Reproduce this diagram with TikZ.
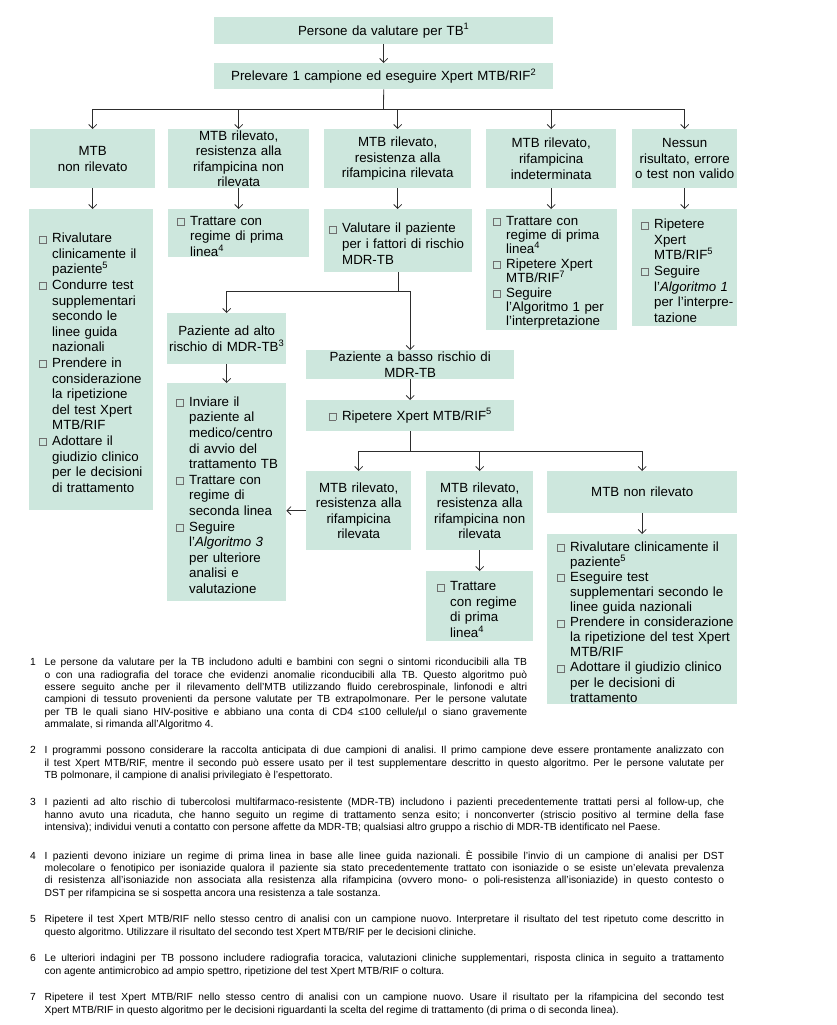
\documentclass[tikz,border=0pt]{standalone}
\usepackage{fontspec}
\setmainfont{Liberation Sans}
\usepackage{xcolor}
\usetikzlibrary{positioning, arrows.meta}

\definecolor{boxgreen}{RGB}{205,231,221}
\definecolor{linegray}{RGB}{45,45,45}
\definecolor{chkgray}{RGB}{110,110,110}

\newcommand{\chkbox}{{\color{chkgray}\setlength{\fboxsep}{0pt}\setlength{\fboxrule}{0.5pt}\fbox{\rule{0pt}{6.5pt}\rule{6.5pt}{0pt}}}}
\newcommand{\itm}{\par\hangindent=13pt\hangafter=1\noindent\hbox to 13pt{\chkbox\hss}}
\newcommand{\pad}[1]{\leftskip=#1\relax}
\newcommand{\fnum}[1]{\hangindent=14.5pt\hangafter=1\noindent\strut\hbox to 14.5pt{#1\hss}}

\begin{document}
\begin{tikzpicture}[x=1pt, y=-1pt,
    box/.style={fill=boxgreen, anchor=north west, inner sep=0pt, font=\fontsize{13.3}{15.6}\selectfont},
    cbox/.style={box, align=center},
    lbox/.style={box, align=left},
    link/.style={draw=linegray, line width=0.8pt},
    flow/.style={link, -{Straight Barb[length=4pt, width=8pt]}},
    fnote/.style={anchor=north west, inner sep=0pt, align=justify, font=\fontsize{10.3}{12.3}\selectfont\frenchspacing}]
  \useasboundingbox (0,0) rectangle (836,1025);

  % start
  \node[cbox, text width=339pt, minimum height=27pt] (top) at (214,17) {Persone da valutare per TB\textsuperscript{1}};
  \node[cbox, text width=339pt, minimum height=26pt] (sample) at (214,63) {Prelevare 1 campione ed eseguire Xpert MTB/RIF\textsuperscript{2}};

  % first results
  \node[cbox, text width=125pt, minimum height=59pt] (notdet) at (30,129) {MTB\\non rilevato};
  \node[cbox, text width=141pt, minimum height=59pt] (rifneg) at (168,129) {MTB rilevato,\\resistenza alla\\rifampicina non\\rilevata};
  \node[cbox, text width=147pt, minimum height=59pt] (rifpos) at (324,129) {MTB rilevato,\\resistenza alla\\rifampicina rilevata};
  \node[cbox, text width=130pt, minimum height=59pt] (rifind) at (486,129) {MTB rilevato,\\rifampicina\\indeterminata};
  \node[cbox, text width=105pt, minimum height=59pt] (noresult) at (632,129) {Nessun\\risultato, errore\\o test non valido};

  % actions
  \node[lbox, text width=124pt, minimum height=301pt] (actnotdet) at (29,209) {\pad{10pt}%
    \itm Rivalutare\newline clinicamente il\newline paziente\textsuperscript{5}
    \itm Condurre test\newline supplementari\newline secondo le\newline linee guida\newline nazionali
    \itm Prendere in\newline considerazione\newline la ripetizione\newline del test Xpert\newline MTB/RIF
    \itm Adottare il\newline giudizio clinico\newline per le decisioni\newline di trattamento\par};
  \node[lbox, text width=141pt, minimum height=48pt] (actrifneg) at (168,209) {\pad{9pt}%
    \itm Trattare con\newline regime di prima\newline linea\textsuperscript{4}\par};
  \node[lbox, text width=148pt, minimum height=63pt] (actrifpos) at (324,209) {\pad{5pt}%
    \itm Valutare il paziente\newline per i fattori di rischio\newline MDR-TB\par};
  \node[lbox, text width=131pt, minimum height=121pt, font=\fontsize{13.3}{14.4}\selectfont] (actrifind) at (486,209) {\pad{7pt}%
    \itm Trattare con\newline regime di prima\newline linea\textsuperscript{4}
    \itm Ripetere Xpert\newline MTB/RIF\textsuperscript{7}
    \itm Seguire\newline l'Algoritmo 1 per\newline l'interpretazione\par};
  \node[lbox, text width=105pt, minimum height=117pt] (actnores) at (632,209) {\pad{9pt}%
    \itm Ripetere\newline Xpert\newline MTB/RIF\textsuperscript{5}
    \itm Seguire\newline l'\textit{Algoritmo 1}\newline per l'interpre-\newline tazione\par};

  % risk
  \node[cbox, text width=119pt, minimum height=51pt] (highrisk) at (167,313) {Paziente ad alto\\rischio di MDR-TB\textsuperscript{3}};
  \node[cbox, text width=208pt, minimum height=29pt] (lowrisk) at (306,350) {Paziente a basso rischio di\\MDR-TB};
  \node[lbox, text width=119pt, minimum height=218pt] (acthigh) at (167,383) {\pad{9pt}%
    \itm Inviare il\newline paziente al\newline medico/centro\newline di avvio del\newline trattamento TB
    \itm Trattare con\newline regime di\newline seconda linea
    \itm Seguire\newline l'\textit{Algoritmo 3}\newline per ulteriore\newline analisi e\newline valutazione\par};
  \node[cbox, text width=208pt, minimum height=31pt] (repeat) at (306,400) {\chkbox\hspace{6pt}Ripetere Xpert MTB/RIF\textsuperscript{5}};

  % second results
  \node[cbox, text width=105pt, minimum height=79pt] (rifpos2) at (306,471) {MTB rilevato,\\resistenza alla\\rifampicina\\rilevata};
  \node[cbox, text width=107pt, minimum height=79pt] (rifneg2) at (426,471) {MTB rilevato,\\resistenza alla\\rifampicina non\\rilevata};
  \node[cbox, text width=190pt, minimum height=42pt] (notdet2) at (547,471) {MTB non rilevato};
  \node[lbox, text width=107pt, minimum height=70pt] (actrifneg2) at (426,571) {\pad{11pt}%
    \itm Trattare\newline con regime\newline di prima\newline linea\textsuperscript{4}\par};
  \node[lbox, text width=190pt, minimum height=170pt, font=\fontsize{13.3}{15.1}\selectfont] (actnotdet2) at (547,534) {\pad{10pt}%
    \itm Rivalutare clinicamente il\newline paziente\textsuperscript{5}
    \itm Eseguire test\newline supplementari secondo le\newline linee guida nazionali
    \itm Prendere in considerazione\newline la ripetizione del test Xpert\newline MTB/RIF
    \itm Adottare il giudizio clinico\newline per le decisioni di\newline trattamento\par};

  % connectors
  \draw[flow] (top) -- (sample);
  \coordinate (bus1) at (383.5,109);
  \draw[link] (sample.south) -- (bus1);
  \draw[link] (notdet.north |- bus1) -- (noresult.north |- bus1);
  \foreach \n in {notdet, rifneg, rifpos, rifind, noresult}
    \draw[flow] (\n.north |- bus1) -- (\n.north);
  \draw[flow] (notdet.south) -- (notdet.south |- actnotdet.north);
  \draw[flow] (rifneg.south) -- (rifneg.south |- actrifneg.north);
  \draw[flow] (rifpos.south) -- (rifpos.south |- actrifpos.north);
  \draw[flow] (rifind.south) -- (rifind.south |- actrifind.north);
  \draw[flow] (noresult.south) -- (noresult.south |- actnores.north);
  \draw[link] (actrifpos.south) -- ++(0,19) coordinate (bus2);
  \draw[flow] (bus2) -| (highrisk.north);
  \draw[flow] (bus2) -| (lowrisk.north);
  \draw[flow] (highrisk.south) -- (highrisk.south |- acthigh.north);
  \draw[flow] (lowrisk.south) -- (lowrisk.south |- repeat.north);
  \draw[link] (repeat.south) -- ++(0,20) coordinate (bus3);
  \draw[flow] (bus3) -| (rifpos2.north);
  \draw[flow] (bus3) -| (rifneg2.north);
  \draw[flow] (bus3) -| (notdet2.north);
  \draw[flow] (rifpos2.west) -- (acthigh.east |- rifpos2.west);
  \draw[flow] (rifneg2.south) -- (rifneg2.south |- actrifneg2.north);
  \draw[flow] (notdet2.south) -- (notdet2.south |- actnotdet2.north);

  % notes
  \node[fnote, text width=497pt] (fn1) at (30,657) {\fnum{1}Le persone da valutare per la TB includono adulti e bambini con segni o sintomi riconducibili alla TB\linebreak
    o con una radiografia del torace che evidenzi anomalie riconducibili alla TB. Questo algoritmo può\linebreak
    essere seguito anche per il rilevamento dell'MTB utilizzando fluido cerebrospinale, linfonodi e altri\linebreak
    campioni di tessuto provenienti da persone valutate per TB extrapolmonare. Per le persone valutate\linebreak
    per TB le quali siano HIV-positive e abbiano una conta di CD4 ≤100 cellule/µl o siano gravemente\linebreak
    ammalate, si rimanda all'Algoritmo 4.\par};
  \node[fnote, text width=694pt] (fn2) at (30,745) {\fnum{2}I programmi possono considerare la raccolta anticipata di due campioni di analisi. Il primo campione deve essere prontamente analizzato con\linebreak
    il test Xpert MTB/RIF, mentre il secondo può essere usato per il test supplementare descritto in questo algoritmo. Per le persone valutate per\linebreak
    TB polmonare, il campione di analisi privilegiato è l'espettorato.\par};
  \node[fnote, text width=694pt] (fn3) at (30,797) {\fnum{3}I pazienti ad alto rischio di tubercolosi multifarmaco-resistente (MDR-TB) includono i pazienti precedentemente trattati persi al follow-up, che\linebreak
    hanno avuto una ricaduta, che hanno seguito un regime di trattamento senza esito; i nonconverter (striscio positivo al termine della fase\linebreak
    intensiva); individui venuti a contatto con persone affette da MDR-TB; qualsiasi altro gruppo a rischio di MDR-TB identificato nel Paese.\par};
  \node[fnote, text width=694pt] (fn4) at (30,850) {\fnum{4}I pazienti devono iniziare un regime di prima linea in base alle linee guida nazionali. È possibile l'invio di un campione di analisi per DST\linebreak
    molecolare o fenotipico per isoniazide qualora il paziente sia stato precedentemente trattato con isoniazide o se esiste un'elevata prevalenza\linebreak
    di resistenza all'isoniazide non associata alla resistenza alla rifampicina (ovvero mono- o poli-resistenza all'isoniazide) in questo contesto o\linebreak
    DST per rifampicina se si sospetta ancora una resistenza a tale sostanza.\par};
  \node[fnote, text width=694pt] (fn5) at (30,914) {\fnum{5}Ripetere il test Xpert MTB/RIF nello stesso centro di analisi con un campione nuovo. Interpretare il risultato del test ripetuto come descritto in\linebreak
    questo algoritmo. Utilizzare il risultato del secondo test Xpert MTB/RIF per le decisioni cliniche.\par};
  \node[fnote, text width=694pt] (fn6) at (30,953) {\fnum{6}Le ulteriori indagini per TB possono includere radiografia toracica, valutazioni cliniche supplementari, risposta clinica in seguito a trattamento\linebreak
    con agente antimicrobico ad ampio spettro, ripetizione del test Xpert MTB/RIF o coltura.\par};
  \node[fnote, text width=694pt] (fn7) at (30,992) {\fnum{7}Ripetere il test Xpert MTB/RIF nello stesso centro di analisi con un campione nuovo. Usare il risultato per la rifampicina del secondo test\linebreak
    Xpert MTB/RIF in questo algoritmo per le decisioni riguardanti la scelta del regime di trattamento (di prima o di seconda linea).\par};
\end{tikzpicture}
\end{document}
